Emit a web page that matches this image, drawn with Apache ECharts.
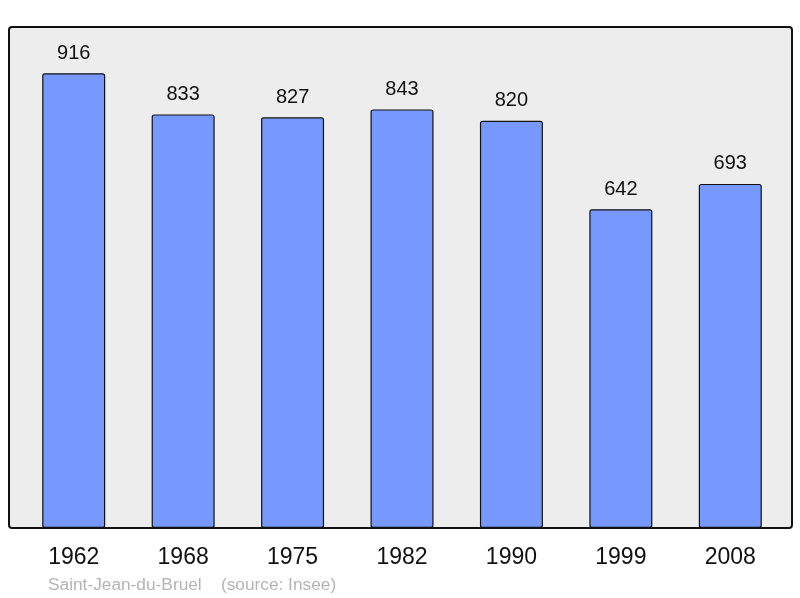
<!DOCTYPE html>
<html>
<head>
<meta charset="utf-8">
<script src="https://cdn.jsdelivr.net/npm/echarts@6/dist/echarts.min.js"></script>
<style>
html, body { margin: 0; padding: 0; background: #fff; }
#chart { width: 800px; height: 598px; }
</style>
</head>
<body>
<div id="chart"></div>
<script>
var years = ['1962', '1968', '1975', '1982', '1990', '1999', '2008'];
var population = [916, 833, 827, 843, 820, 642, 693];

var chart = echarts.init(document.getElementById('chart'));
var option = {
    animation: false,
    graphic: [{
        type: 'rect',
        z: -10,
        shape: { x: 9, y: 27, width: 783, height: 501, r: 3 },
        style: { fill: '#ededed', stroke: '#111', lineWidth: 2 }
    }, {
        type: 'text',
        left: 48,
        top: 577,
        style: {
            text: 'Saint-Jean-du-Bruel    (source: Insee)',
            fill: '#b4b4b4',
            font: '17.3px "Liberation Sans", Arial, sans-serif'
        }
    }],
    grid: { left: 19, right: 15, top: 27, bottom: 70 },
    xAxis: {
        type: 'category',
        data: years,
        axisLine: { show: false },
        axisTick: { show: false },
        axisLabel: {
            margin: 18,
            fontSize: 23,
            color: '#111',
            fontFamily: '"Liberation Sans", Arial, sans-serif'
        }
    },
    yAxis: {
        type: 'value',
        min: 0,
        max: 1009,
        show: false,
        splitLine: { show: false }
    },
    series: [{
        type: 'bar',
        data: population,
        barWidth: 63,
        itemStyle: {
            color: '#7799ff',
            borderColor: '#111',
            borderWidth: 1.2,
            borderRadius: 2
        },
        label: {
            show: true,
            position: 'top',
            distance: 10,
            fontSize: 20,
            color: '#111',
            fontFamily: '"Liberation Sans", Arial, sans-serif'
        }
    }]
};
chart.setOption(option);
</script>
</body>
</html>
